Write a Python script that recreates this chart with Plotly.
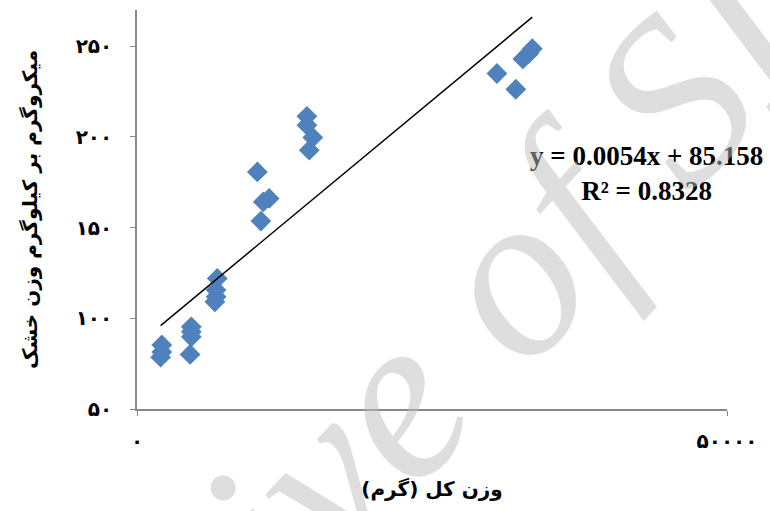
import plotly.graph_objects as go

# Total body weight (g) and tissue concentration (µg/kg dry weight)
total_weight = [2100, 2100, 2000, 4600, 4600, 4600, 4500,
                6800, 6700, 6700, 6600,
                10200, 11200, 10700, 10500,
                14400, 14400, 14900, 14600,
                30500, 32100, 32700, 33200, 33500]
concentration = [85.3, 81.4, 78.6, 95.3, 92.6, 89.8, 80.1,
                 122.0, 115.6, 111.9, 109.1,
                 180.7, 166.1, 164.2, 153.6,
                 211.4, 206.5, 199.7, 192.7,
                 235.0, 226.3, 243.0, 246.0, 248.7]

# Linear trend reported on the chart
slope = 0.0054
intercept = 85.158
r_squared = 0.8328

x_tick_vals = [0, 50000]
x_tick_text = ["۰", "۵۰۰۰۰"]
y_tick_vals = [50, 100, 150, 200, 250]
y_tick_text = ["۵۰", "۱۰۰", "۱۵۰", "۲۰۰", "۲۵۰"]

x_title = "وزن کل (گرم)"
y_title = "میکروگرم بر کیلوگرم وزن خشک"
watermark = "Archive of SID"

trend_x = [min(total_weight), max(total_weight)]
trend_y = [slope * v + intercept for v in trend_x]

fig = go.Figure()
fig.add_trace(go.Scatter(
    x=total_weight, y=concentration, mode="markers",
    marker=dict(symbol="diamond", size=16, color="#4F81BD"),
    showlegend=False,
))
fig.add_trace(go.Scatter(
    x=trend_x, y=trend_y, mode="lines",
    line=dict(color="black", width=1.5),
    showlegend=False,
))

persian_font = dict(family="DejaVu Sans", size=20, color="black", weight="bold")
title_font = dict(family="DejaVu Sans", size=20, color="black", weight="bold")

fig.update_layout(
    width=770, height=511,
    margin=dict(l=137, r=43, t=10, b=102),
    plot_bgcolor="white", paper_bgcolor="white",
    xaxis=dict(
        range=[0, 50000], tickvals=x_tick_vals, ticktext=x_tick_text,
        showgrid=False, zeroline=False,
        showline=True, linecolor="#888888", linewidth=1.5,
        ticks="outside", ticklen=5, tickcolor="#888888",
        tickfont=persian_font, ticklabelstandoff=8,
        title=dict(text=x_title, standoff=30, font=title_font),
    ),
    yaxis=dict(
        range=[50, 270], tickvals=y_tick_vals, ticktext=y_tick_text,
        showgrid=False, zeroline=False,
        showline=True, linecolor="#888888", linewidth=1.5,
        ticks="outside", ticklen=5, tickcolor="#888888",
        tickfont=persian_font, ticklabelstandoff=14,
        title=dict(text=y_title, standoff=33, font=title_font),
    ),
)

fig.add_annotation(
    xref="paper", yref="paper", x=0.864, y=0.589,
    text=f"y = {slope}x + {intercept}<br>R² = {r_squared}",
    showarrow=False, align="center", xanchor="center", yanchor="middle",
    font=dict(family="Liberation Serif", size=27, color="black", weight="bold"),
)

fig.add_annotation(
    xref="paper", yref="paper", x=0.45, y=0.05,
    text=watermark, textangle=-47,
    showarrow=False, xanchor="center", yanchor="middle",
    font=dict(family="Liberation Serif", size=236, style="italic",
              color="rgba(190,190,190,0.5)"),
)

fig.write_html("out.html")
